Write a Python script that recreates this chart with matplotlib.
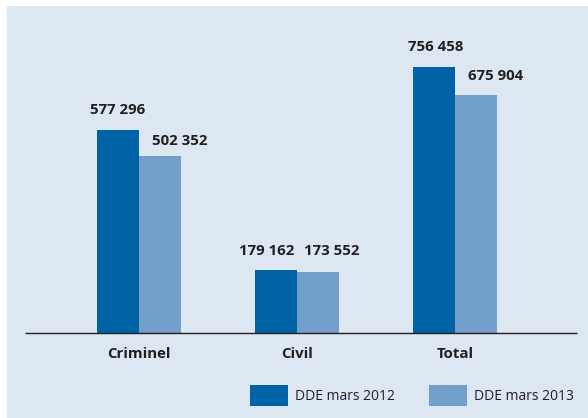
import matplotlib
matplotlib.use("Agg")
import matplotlib.pyplot as plt
from matplotlib.patches import Rectangle
import numpy as np

categories = ["Criminel", "Civil", "Total"]
dde_2012 = [577296, 179162, 756458]
dde_2013 = [502352, 173552, 675904]
series_names = ["DDE mars 2012", "DDE mars 2013"]

# label nudges in pixels (the original has hand-placed labels)
dx_2012 = [0, -9, 1.5]
dx_2013 = [20, 14, 20]
dy_2012 = [20, 19, 20]
dy_2013 = [15, 21, 19]

DARK = "#0063a6"
LIGHT = "#72a0cb"
PANEL = "#dde7f1"
TXT = "#231f20"

plt.rcParams["font.family"] = ["Open Sans", "DejaVu Sans"]

W, H = 588, 418
fig = plt.figure(figsize=(W / 100, H / 100), dpi=100, facecolor="white")
fig.patches.append(Rectangle((7 / W, 0), 1 - 7 / W, 1 - 6 / H,
                             transform=fig.transFigure, facecolor=PANEL,
                             edgecolor="none", zorder=-5))

# axes: x from 25 to 577 px, baseline at y=333, top at y=6
ax = fig.add_axes([25 / W, 1 - 333 / H, 552 / W, 327 / H])
ax.set_facecolor("none")
ax.set_zorder(2)

x = np.arange(len(categories))
bw = 42 / 158
b1 = ax.bar(x - bw / 2, dde_2012, width=bw, color=DARK, label=series_names[0])
b2 = ax.bar(x + bw / 2, dde_2013, width=bw, color=LIGHT, label=series_names[1])

ax.set_xlim(-114 / 158, 2 + 122 / 158)
ax.set_ylim(0, 929000)

def fmt(v):
    return "{:,}".format(v).replace(",", " ")

for i in range(len(categories)):
    ax.annotate(fmt(dde_2012[i]), (x[i] - bw / 2, dde_2012[i]),
                xytext=(dx_2012[i] * 0.72, dy_2012[i] * 0.72),
                textcoords="offset points", ha="center", va="center",
                fontsize=10.8, fontweight="bold", color=TXT)
    ax.annotate(fmt(dde_2013[i]), (x[i] + bw / 2, dde_2013[i]),
                xytext=(dx_2013[i] * 0.72, dy_2013[i] * 0.72),
                textcoords="offset points", ha="center", va="center",
                fontsize=10.8, fontweight="bold", color=TXT)

for s in ["top", "left", "right"]:
    ax.spines[s].set_visible(False)
ax.spines["bottom"].set_color(TXT)
ax.spines["bottom"].set_linewidth(1.0)
ax.spines["bottom"].set_capstyle("butt")
ax.set_yticks([])
ax.set_xticks(x)
ax.set_xticklabels(categories, fontsize=10.8, fontweight="bold", color=TXT)
ax.tick_params(axis="x", length=0, pad=10)

leg = fig.legend(handles=[b1, b2], labels=series_names, loc="upper left",
                 bbox_to_anchor=(250 / W, 1 - 384.7 / H), ncol=2, frameon=False,
                 fontsize=10, handlelength=2.73, handleheight=1.95,
                 handletextpad=0.5, columnspacing=2.5, borderpad=0,
                 borderaxespad=0, labelcolor=TXT)
leg.set_zorder(3)

fig.savefig("out.png", dpi=100, facecolor="white")
